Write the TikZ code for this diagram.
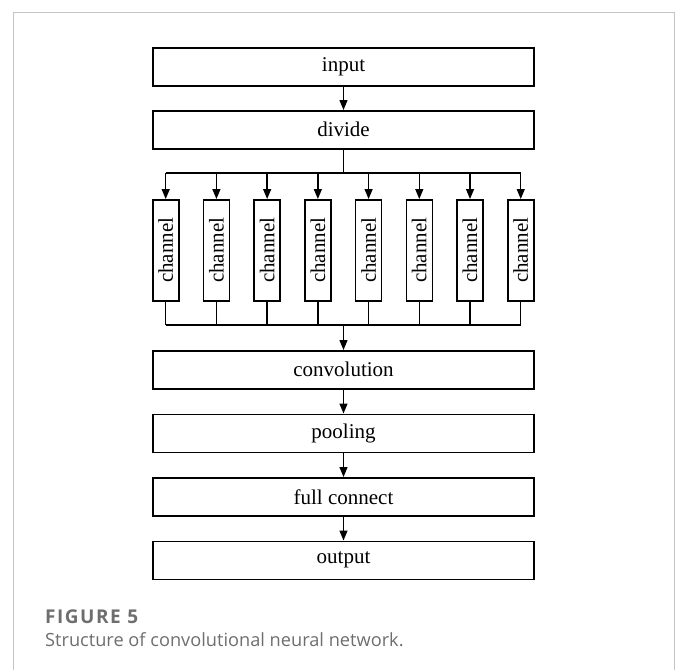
\documentclass[tikz,border=0pt]{standalone}
\usepackage{fontspec}
\setmainfont{Liberation Serif}
\newfontfamily\capfont{Open Sans}
\newfontfamily\capfontsp[LetterSpace=8]{Open Sans}
\usetikzlibrary{arrows.meta}
\definecolor{capgray}{HTML}{6E6E6E}
\definecolor{framegray}{HTML}{C4C4C4}
\begin{document}
\begin{tikzpicture}[x=1pt,y=-1pt,
  box/.style={draw=black,line width=1.6pt,minimum width=381pt,minimum height=38pt,inner sep=0pt,font=\fontsize{21}{21}\selectfont,anchor=north},
  chbox/.style={draw=black,line width=1.6pt,minimum width=26pt,minimum height=101pt,inner sep=0pt,anchor=north},
  link/.style={line width=1.3pt},
  arr/.style={line width=1.3pt,-{Triangle[length=10pt,width=8pt]}}]
\useasboundingbox (0,0) rectangle (682,670);
\draw[framegray,line width=1pt] (13.3,670) -- (13.3,12.7) -- (674.3,12.7) -- (674.3,670);
\node[box] (input) at (343.5,47) {input};
\node[box] (divide) at (343.5,110) {divide};
\node[box] (conv) at (343.5,350) {convolution};
\node[box] (pool) at (343.5,413.5) {pooling};
\node[box] (full) at (343.5,477) {full connect};
\node[box] (out) at (343.5,540.5) {output};
\coordinate (split) at (343.5,173);
\coordinate (merge) at (343.5,325);
\foreach \i in {0,...,7}{
  \pgfmathsetmacro{\cx}{165.7+50.72*\i}
  \node[chbox] (ch\i) at (\cx,199) {};
  \node[rotate=90,font=\fontsize{21}{21}\selectfont,inner sep=0pt] at (ch\i.center) {channel};
  \coordinate (ta\i) at (\cx,173);
  \coordinate (tb\i) at (\cx,325);
  \draw[arr] (ta\i) -- (ch\i.north);
  \draw[link] (ch\i.south) -- (tb\i);
}
\draw[link] (ta0) -- (ta7);
\draw[link] (tb0) -- (tb7);
\draw[arr] (input) -- (divide);
\draw[link] (divide.south) -- (split);
\draw[arr] (merge) -- (conv.north);
\draw[arr] (conv) -- (pool);
\draw[arr] (pool) -- (full);
\draw[arr] (full) -- (out);
\node[anchor=base west,inner sep=0pt,text=capgray,font=\capfontsp\bfseries\fontsize{19}{19}\selectfont] (figlabel) at (45,623.3) {FIGURE 5};
\node[anchor=base west,inner sep=0pt,text=capgray,font=\capfont\fontsize{18.2}{18.2}\selectfont] (figcap) at (45,646.7) {Structure of convolutional neural network.};
\end{tikzpicture}
\end{document}
